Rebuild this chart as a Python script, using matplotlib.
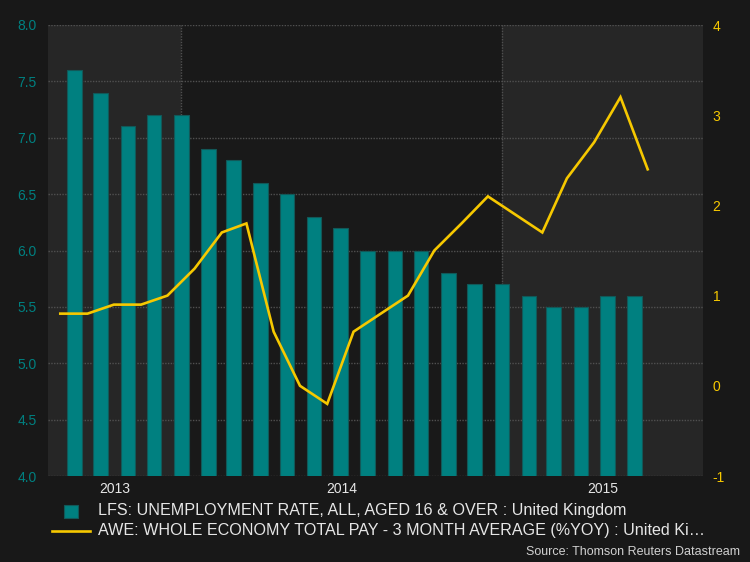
import matplotlib
matplotlib.use("Agg")
import matplotlib.pyplot as plt
import matplotlib.dates as mdates
from matplotlib.patches import Rectangle
from matplotlib.lines import Line2D
import pandas as pd

# ---- data ----
unemp_dates = pd.date_range("2013-09-01", periods=22, freq="MS")
unemp_values = [7.6, 7.4, 7.1, 7.2, 7.2, 6.9, 6.8, 6.6, 6.5, 6.3, 6.2, 6.0,
                6.0, 6.0, 5.8, 5.7, 5.7, 5.6, 5.5, 5.5, 5.6, 5.6]
awe_dates = pd.date_range("2013-08-01", periods=23, freq="MS") + pd.Timedelta(days=15)
awe_values = [0.8, 0.8, 0.9, 0.9, 1.0, 1.3, 1.7, 1.8, 0.6, 0.0, -0.2, 0.6,
              0.8, 1.0, 1.5, 1.8, 2.1, 1.9, 1.7, 2.3, 2.7, 3.2, 2.4]
year_labels = ["2013", "2014", "2015"]
legend_labels = ["LFS: UNEMPLOYMENT RATE, ALL, AGED 16 & OVER : United Kingdom",
                 "AWE: WHOLE ECONOMY TOTAL PAY - 3 MONTH AVERAGE (%YOY) : United Ki\u2026"]
source_text = "Source: Thomson Reuters Datastream"

# ---- style ----
FIG_BG = "#181818"
AX_BG = "#191919"
BAND = "#262626"
TEAL = "#008080"
TEAL_EDGE = "#125858"
YELLOW = "#f6c800"
GRID = "#505050"
FONT = ["Liberation Sans", "DejaVu Sans"]
plt.rcParams["font.family"] = FONT
plt.rcParams["axes.unicode_minus"] = False

fig = plt.figure(figsize=(7.5, 5.62), dpi=100, facecolor=FIG_BG)
ax = fig.add_axes([48 / 750, 1 - 476 / 562, (703 - 48) / 750, (476 - 25) / 562])
ax.set_facecolor(AX_BG)

xmin = pd.Timestamp("2013-08-02")
xmax = pd.Timestamp("2015-08-18")
y2014 = pd.Timestamp("2014-01-01")
y2015 = pd.Timestamp("2015-01-01")

ax.axvspan(xmin, y2014, color=BAND, zorder=0, lw=0)
ax.axvspan(y2015, xmax, color=BAND, zorder=0, lw=0)

ax.bar(unemp_dates, unemp_values, width=16.5, color=TEAL, edgecolor=TEAL_EDGE,
       linewidth=0.8, zorder=3)
ax.set_ylim(4.0, 8.0)
ax.set_yticks([4.0, 4.5, 5.0, 5.5, 6.0, 6.5, 7.0, 7.5, 8.0])
ax.set_yticklabels([f"{v:.1f}" for v in ax.get_yticks()])
ax.set_xlim(xmin, xmax)

ax.grid(True, axis="both", which="major", color=GRID, linestyle=(0, (1, 1)), linewidth=1.0, zorder=1)
ax.set_axisbelow(True)

ax.set_xticks([y2014, y2015])
ax.set_xticklabels(["", ""])
centers = [xmin + (y2014 - xmin) / 2, y2014 + (y2015 - y2014) / 2, y2015 + (xmax - y2015) / 2]
ax.set_xticks(centers, minor=True)
ax.set_xticklabels(year_labels, minor=True)
ax.tick_params(axis="x", which="both", length=0, pad=4, labelsize=10, labelcolor="#e6e6e6")
ax.tick_params(axis="y", length=0, pad=8, labelsize=10, labelcolor=TEAL)

ax2 = ax.twinx()
ax2.plot(awe_dates, awe_values, color=YELLOW, linewidth=1.9, zorder=4, solid_joinstyle="miter")
ax2.set_ylim(-1, 4)
ax2.set_yticks([-1, 0, 1, 2, 3, 4])
ax2.tick_params(axis="y", length=0, pad=7, labelsize=10, labelcolor=YELLOW)
ax2.set_xlim(xmin, xmax)

for a in (ax, ax2):
    for s in a.spines.values():
        s.set_visible(False)

# ---- legend (manual) ----
W, H = 750, 562
fig.patches.append(Rectangle((64 / W, 1 - 518 / H), 14 / W, 13 / H, transform=fig.transFigure,
                             facecolor=TEAL, edgecolor=TEAL_EDGE, linewidth=0.8))
fig.lines.append(Line2D([52 / W, 90 / W], [1 - 530.5 / H, 1 - 530.5 / H], transform=fig.transFigure,
                        color=YELLOW, linewidth=1.9))
fig.text(98 / W, 1 - 511 / H, legend_labels[0], color="#e6e6e6", fontsize=11.6, va="center", ha="left")
fig.text(98 / W, 1 - 530 / H, legend_labels[1], color="#e6e6e6", fontsize=11.6, va="center", ha="left")
fig.text(740 / W, 1 - 552 / H, source_text, color="#d0d0d0", fontsize=9, va="center", ha="right")

fig.savefig("out.png", dpi=100, facecolor=FIG_BG)
